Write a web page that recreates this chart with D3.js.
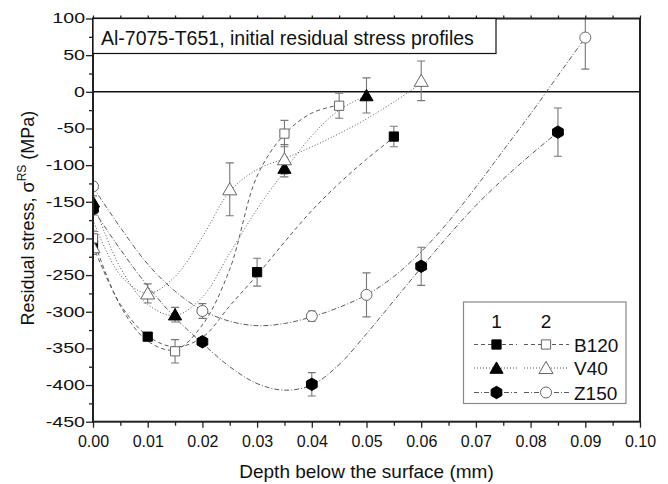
<!DOCTYPE html>
<html><head><meta charset="utf-8">
<script src="https://cdn.jsdelivr.net/npm/d3@7"></script>
<style>
html,body{margin:0;padding:0;background:#fff;}
svg{display:block;font-family:"Liberation Sans",Arial,sans-serif;}
</style></head>
<body>
<svg id="chart" width="668" height="484"></svg>
<script>
// ---- data ----
const xTicks = [0, 0.01, 0.02, 0.03, 0.04, 0.05, 0.06, 0.07, 0.08, 0.09, 0.10];
const yTicks = [100, 50, 0, -50, -100, -150, -200, -250, -300, -350, -400, -450];

// measured points: depth (mm), stress (MPa), error half-width (MPa)
const b120_1_x = [0, 0.01, 0.03, 0.055];
const b120_1_y = [-208, -334, -246, -61];
const b120_1_e = [10, 4, 19, 14];

const b120_2_x = [0, 0.015, 0.035, 0.045];
const b120_2_y = [-200, -354, -57, -19];
const b120_2_e = [10, 16, 18, 17];

const v40_1_x = [0, 0.015, 0.035, 0.05];
const v40_1_y = [-150, -304, -104, -5];
const v40_1_e = [8, 10, 12, 24];

const v40_2_x = [0, 0.01, 0.025, 0.035, 0.06];
const v40_2_y = [-212, -275, -133, -92, 15];
const v40_2_e = [10, 13, 36, 20, 27];

const z150_1_x = [0, 0.02, 0.04, 0.06, 0.085];
const z150_1_y = [-160, -341, -399, -238, -55];
const z150_1_e = [8, 5, 16, 26, 33];

const z150_2_x = [0, 0.02, 0.04, 0.05, 0.09];
const z150_2_y = [-129, -299, -306, -277, 74];
const z150_2_e = [5, 10, 7, 30, 43];

// fitted trend curves
const b120_1_fitX = [0, 0.005, 0.01, 0.015, 0.02, 0.025, 0.03, 0.035, 0.04, 0.045, 0.05, 0.055];
const b120_1_fitY = [-210, -290, -333, -348, -335, -292, -250, -205, -162, -125, -92, -62];
const b120_2_fitX = [0, 0.005, 0.01, 0.015, 0.02, 0.025, 0.03, 0.035, 0.04, 0.045];
const b120_2_fitY = [-200, -292, -340, -352, -318, -242, -115, -58, -29, -18];
const v40_1_fitX = [0, 0.005, 0.01, 0.015, 0.02, 0.025, 0.03, 0.035, 0.04, 0.045, 0.05];
const v40_1_fitY = [-150, -240, -290, -305, -280, -220, -160, -108, -60, -25, -5];
const v40_2_fitX = [0, 0.005, 0.01, 0.015, 0.02, 0.025, 0.03, 0.035, 0.04, 0.045, 0.05, 0.055, 0.06];
const v40_2_fitY = [-175, -250, -275, -252, -198, -136, -106, -91, -75, -57, -37, -14, 12];
const z150_1_fitX = [0, 0.005, 0.01, 0.015, 0.02, 0.025, 0.03, 0.035, 0.04, 0.045, 0.05, 0.055, 0.06, 0.065, 0.07, 0.075, 0.08, 0.085];
const z150_1_fitY = [-160, -215, -265, -308, -343, -375, -398, -407, -400, -372, -330, -285, -240, -196, -155, -119, -86, -55];
const z150_2_fitX = [0, 0.005, 0.01, 0.015, 0.02, 0.025, 0.03, 0.035, 0.04, 0.045, 0.05, 0.055, 0.06, 0.065, 0.07, 0.075, 0.08, 0.085, 0.09];
const z150_2_fitY = [-130, -185, -235, -272, -298, -313, -319, -316, -307, -294, -277, -252, -218, -177, -130, -80, -30, 22, 74];

const seriesNames = ["B120", "V40", "Z150"];
const columnHeads = ["1", "2"];
const titleText = "Al-7075-T651, initial residual stress profiles";

// ---- drawing ----
const svg = d3.select("#chart");
const L = 93, R = 640, T = 18.5, B = 421.7;
const x = d3.scaleLinear().domain([0, 0.1]).range([L, R]);
const y = d3.scaleLinear().domain([-450, 100]).range([B, T]);

const hexagon = {
  draw(ctx, size) {
    const r = Math.sqrt(size / (1.5 * Math.sqrt(3)));
    for (let i = 0; i < 6; i++) {
      const a = Math.PI / 6 + i * Math.PI / 3;
      const px = r * Math.cos(a), py = r * Math.sin(a);
      if (i === 0) ctx.moveTo(px, py); else ctx.lineTo(px, py);
    }
    ctx.closePath();
  }
};

const zip = (xs, ys, es) => xs.map((v, i) => ({x: v, y: ys[i], e: es ? es[i] : 0}));

const series = [
  {pts: zip(b120_1_x, b120_1_y, b120_1_e), fit: zip(b120_1_fitX, b120_1_fitY), sym: d3.symbolSquare, size: 85, filled: true, dash: "4,3"},
  {pts: zip(b120_2_x, b120_2_y, b120_2_e), fit: zip(b120_2_fitX, b120_2_fitY), sym: d3.symbolSquare, size: 85, filled: false, dash: "4,3"},
  {pts: zip(v40_1_x, v40_1_y, v40_1_e), fit: zip(v40_1_fitX, v40_1_fitY), sym: d3.symbolTriangle, size: 75, filled: true, dash: "1,2"},
  {pts: zip(v40_2_x, v40_2_y, v40_2_e), fit: zip(v40_2_fitX, v40_2_fitY), sym: d3.symbolTriangle, size: 85, filled: false, dash: "1,2"},
  {pts: zip(z150_1_x, z150_1_y, z150_1_e), fit: zip(z150_1_fitX, z150_1_fitY), sym: hexagon, size: 100, filled: true, dash: "5,2,1,2"},
  {pts: zip(z150_2_x, z150_2_y, z150_2_e), fit: zip(z150_2_fitX, z150_2_fitY), sym: d3.symbolCircle, size: 95, filled: false, dash: "5,2,1,2"}
];

svg.append("defs").append("clipPath").attr("id", "plotclip")
  .append("rect").attr("x", L).attr("y", T).attr("width", R - L).attr("height", B - T);

const plot = svg.append("g").attr("clip-path", "url(#plotclip)");

// zero line
plot.append("line").attr("x1", L).attr("x2", R).attr("y1", y(0)).attr("y2", y(0))
  .attr("stroke", "#111").attr("stroke-width", 1.6);

const line = d3.line().x(d => x(d.x)).y(d => y(d.y)).curve(d3.curveCatmullRom.alpha(0.5));
series.forEach(s => {
  plot.append("path").datum(s.fit).attr("d", line).attr("fill", "none")
    .attr("stroke", "#5a5a5a").attr("stroke-width", 1).attr("stroke-dasharray", s.dash);
});

// error bars
series.forEach(s => {
  const g = plot.append("g").attr("stroke", "#777").attr("stroke-width", 1.1);
  s.pts.forEach(d => {
    g.append("line").attr("x1", x(d.x)).attr("x2", x(d.x)).attr("y1", y(d.y - d.e)).attr("y2", y(d.y + d.e));
    [d.y - d.e, d.y + d.e].forEach(v => {
      g.append("line").attr("x1", x(d.x) - 4).attr("x2", x(d.x) + 4).attr("y1", y(v)).attr("y2", y(v));
    });
  });
});

// markers
series.forEach(s => {
  plot.selectAll(null).data(s.pts).join("path")
    .attr("transform", d => `translate(${x(d.x)},${y(d.y) + (s.sym === d3.symbolTriangle ? 1.5 : 0)})`)
    .attr("d", d3.symbol().type(s.sym).size(s.size))
    .attr("fill", s.filled ? "#000" : "#fff")
    .attr("stroke", s.filled ? "#000" : "#666").attr("stroke-width", 1);
});

// frame
svg.append("rect").attr("x", L).attr("y", T).attr("width", R - L).attr("height", B - T)
  .attr("fill", "none").attr("stroke", "#222").attr("stroke-width", 2);

// axes
const fmtY = d => String(d);
const ySX = 1.4;
const yAxis = d3.axisLeft(y).tickValues(yTicks).tickFormat(fmtY).tickSize(7).tickPadding(1);
const gy = svg.append("g").attr("transform", `translate(${L},0)`).call(yAxis);
gy.selectAll(".tick text").attr("font-size", 14).attr("x", -8 / ySX).attr("transform", `scale(${ySX},1)`);
const yMinor = d3.range(-425, 100, 50);
svg.append("g").attr("transform", `translate(${L},0)`)
  .call(d3.axisLeft(y).tickValues(yMinor).tickFormat("").tickSize(4));

const xAxis = d3.axisBottom(x).tickValues(xTicks).tickFormat(d3.format(".2f")).tickSize(6).tickPadding(8);
const gx = svg.append("g").attr("transform", `translate(0,${B})`).call(xAxis);
gx.selectAll(".tick text").attr("font-size", 16);
const xMinor = d3.range(0.005, 0.1, 0.01);
svg.append("g").attr("transform", `translate(0,${B})`)
  .call(d3.axisBottom(x).tickValues(xMinor).tickFormat("").tickSize(4));
// mirrored ticks on top
svg.append("g").attr("transform", `translate(0,${T})`)
  .call(d3.axisTop(x).tickValues(xTicks.concat(xMinor)).tickFormat("").tickSize(3));

svg.selectAll(".domain").remove();
svg.selectAll(".tick line").attr("stroke", "#222").attr("stroke-width", 1.3);
svg.selectAll(".tick text").attr("fill", "#111")
  .attr("font-family", "'Liberation Sans', Arial, sans-serif");

// axis titles
svg.append("text").attr("x", (L + R) / 2).attr("y", 478).attr("text-anchor", "middle")
  .attr("font-size", 19).attr("fill", "#111").text("Depth below the surface (mm)");
const yt = svg.append("text").attr("transform", `translate(34,${(T + B) / 2 - 2}) rotate(-90)`)
  .attr("text-anchor", "middle").attr("font-size", 18).attr("fill", "#111");
yt.append("tspan").text("Residual stress, \u03C3");
yt.append("tspan").attr("dy", -8).attr("font-size", 12).text("RS");
yt.append("tspan").attr("dy", 8).text(" (MPa)");

// title box
svg.append("rect").attr("x", L).attr("y", T).attr("width", 403).attr("height", 35)
  .attr("fill", "#fff").attr("stroke", "#111").attr("stroke-width", 1.2);
svg.append("text").attr("x", L + 8).attr("y", T + 26).attr("font-size", 19.5).attr("fill", "#111").text(titleText);

// legend
const lg = svg.append("g");
lg.append("rect").attr("x", 463.5).attr("y", 302).attr("width", 162.5).attr("height", 101.5)
  .attr("fill", "#fff").attr("stroke", "#888").attr("stroke-width", 1.2);
const colX = [496.5, 546];
const lineSpan = [[474, 517], [524, 569]];
columnHeads.forEach((h, i) => {
  lg.append("text").attr("x", colX[i]).attr("y", 328).attr("text-anchor", "middle")
    .attr("font-size", 19).attr("fill", "#111").text(h);
});
const rowY = [344.5, 368, 392.5];
seriesNames.forEach((name, r) => {
  [0, 1].forEach(c => {
    const s = series[r * 2 + c];
    lg.append("line").attr("x1", lineSpan[c][0]).attr("x2", lineSpan[c][1]).attr("y1", rowY[r]).attr("y2", rowY[r])
      .attr("stroke", "#5a5a5a").attr("stroke-width", 1).attr("stroke-dasharray", s.dash);
    lg.append("path").attr("transform", `translate(${colX[c]},${rowY[r] + (s.sym === d3.symbolTriangle ? 1.5 : 0)})`)
      .attr("d", d3.symbol().type(s.sym).size(s.size))
      .attr("fill", s.filled ? "#000" : "#fff").attr("stroke", s.filled ? "#000" : "#666");
  });
  lg.append("text").attr("x", 574).attr("y", rowY[r] + 7).attr("font-size", 19).attr("fill", "#111").text(name);
});
</script>
</body></html>
